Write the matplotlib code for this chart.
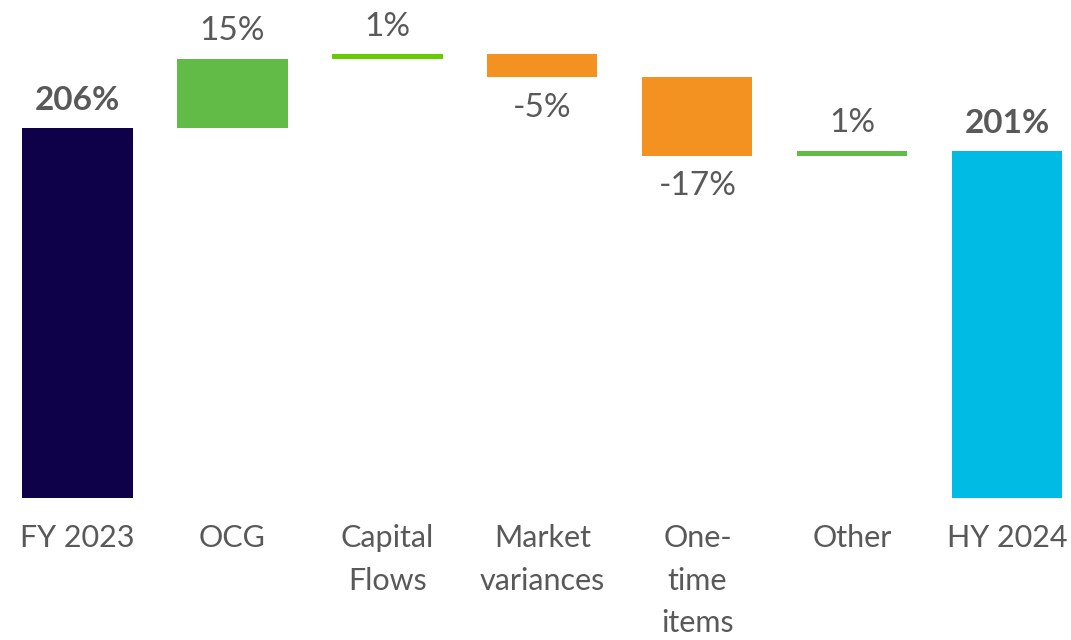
import matplotlib.pyplot as plt

plt.rcParams['font.family'] = ['Lato', 'DejaVu Sans']

categories = ["FY 2023", "OCG", "Capital\nFlows", "Market\nvariances", "One-\ntime\nitems", "Other", "HY 2024"]
values = [206, 15, 1, -5, -17, 1, 201]
labels = ["206%", "15%", "1%", "-5%", "-17%", "1%", "201%"]
colors = ["#0e0049", "#62bb46", "#66cc00", "#f39220", "#f39220", "#62bb46", "#00bce4"]

txt = "#595959"

fig = plt.figure(figsize=(10.71, 6.4), dpi=100)
ax = fig.add_axes([0, 0.222, 1, 0.778])

# waterfall: first and last are totals, others step from running total
running = 0
for i, v in enumerate(values):
    if i == 0 or i == len(values) - 1:
        bottom, height = 0, v
        running = v
    else:
        bottom, height = running, v
        running += v
    ax.bar(i, height, bottom=bottom, width=0.71, color=colors[i])
    top = bottom + height
    bold = i == 0 or i == len(values) - 1
    if height >= 0:
        ax.annotate(labels[i], (i, top), xytext=(0, 9), textcoords="offset points",
                    ha="center", va="bottom", fontsize=24, color=txt,
                    fontweight="bold" if bold else "normal")
    else:
        ax.annotate(labels[i], (i, top), xytext=(0, -11), textcoords="offset points",
                    ha="center", va="top", fontsize=24, color=txt)

ax.set_ylim(125.6, 233.8)
ax.set_xlim(-0.5, 6.41)
ax.set_xticks(range(len(categories)))
ax.set_xticklabels(categories, fontsize=22, color=txt, linespacing=1.62)
ax.tick_params(axis="x", length=0, pad=19)
ax.set_yticks([])
for s in ax.spines.values():
    s.set_visible(False)

fig.savefig("out.png", dpi=100)
